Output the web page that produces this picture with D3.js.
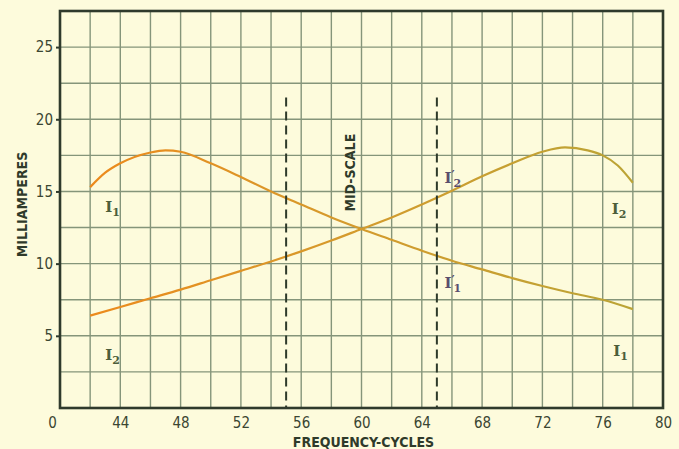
<!DOCTYPE html>
<html>
<head>
<meta charset="utf-8">
<script src="https://cdn.jsdelivr.net/npm/d3@7"></script>
<style>
  html, body { margin: 0; padding: 0; background: #fdfbdc; }
  svg { display: block; }
  .tick-label { font-family: "DejaVu Sans Condensed", "DejaVu Sans", sans-serif; font-size: 15px; fill: #3b4632; }
  .title { font-family: "DejaVu Sans Condensed", "DejaVu Sans", sans-serif; font-size: 14px; font-weight: bold; fill: #2f3a2a; }
  .curve-label { font-family: "DejaVu Serif", serif; font-weight: bold; font-size: 15px; }
</style>
</head>
<body>
<svg id="chart"></svg>
<script>
const width = 679;
const height = 449;

// frequency (cycles) vs milliamperes
const i1Freq = [42, 43, 44, 46, 47, 48, 50, 52, 54, 56, 58, 60, 62, 64, 66, 68, 70, 72, 74, 76, 78];
const i1Ma   = [15.3, 16.3, 16.95, 17.7, 17.85, 17.75, 16.95, 16.0, 15.0, 14.1, 13.2, 12.4, 11.65, 10.9, 10.2, 9.6, 9.0, 8.45, 7.95, 7.5, 6.85];

const i2Freq = [42, 44, 46, 48, 50, 52, 54, 56, 58, 60, 62, 64, 66, 68, 70, 72, 73.5, 75, 76, 77, 78];
const i2Ma   = [6.4, 7.0, 7.6, 8.2, 8.85, 9.5, 10.15, 10.85, 11.6, 12.4, 13.2, 14.1, 15.05, 16.05, 16.95, 17.75, 18.05, 17.85, 17.5, 16.8, 15.6];

const xTicks = [40, 44, 48, 52, 56, 60, 64, 68, 72, 76, 80];
const yTicks = [5, 10, 15, 20, 25];

// dashed markers at 55 and 65 cycles
const markerFreq = [55, 65];
const markerTop = 21.5;

// curve labels: [freq, mA, main, sub, prime]
const labels = [
  [43, 13.55, "I", "1", false],
  [43, 3.35, "I", "2", false],
  [65.5, 15.6, "I", "2", true],
  [65.5, 8.3, "I", "1", true],
  [76.6, 13.45, "I", "2", false],
  [76.7, 3.6, "I", "1", false]
];

const margin = { top: 11, right: 16, bottom: 41, left: 60 };

const svg = d3.select("#chart")
    .attr("width", width)
    .attr("height", height);

const x = d3.scaleLinear()
    .domain([40, 80])
    .range([margin.left, width - margin.right]);

const y = d3.scaleLinear()
    .domain([0, 27.5])
    .range([height - margin.bottom, margin.top]);

const defs = svg.append("defs");
const grad = defs.append("linearGradient")
    .attr("id", "curveGrad")
    .attr("gradientUnits", "userSpaceOnUse")
    .attr("x1", x(42)).attr("x2", x(78))
    .attr("y1", 0).attr("y2", 0);
grad.append("stop").attr("offset", 0).attr("stop-color", "#ec8a1c");
grad.append("stop").attr("offset", 0.45).attr("stop-color", "#d69a2c");
grad.append("stop").attr("offset", 1).attr("stop-color", "#bba436");

// grid
const grid = svg.append("g").attr("stroke", "#85957a").attr("stroke-width", 1.4);
grid.selectAll(".vline")
    .data(d3.range(42, 80, 2))
  .enter().append("line")
    .attr("x1", d => x(d)).attr("x2", d => x(d))
    .attr("y1", y(0)).attr("y2", y(27.5));
grid.selectAll(".hline")
    .data(d3.range(2.5, 27.5, 2.5))
  .enter().append("line")
    .attr("y1", d => y(d)).attr("y2", d => y(d))
    .attr("x1", x(40)).attr("x2", x(80));

// curves
const line = d3.line()
    .x(d => x(d[0]))
    .y(d => y(d[1]))
    .curve(d3.curveMonotoneX);

svg.append("path")
    .datum(d3.zip(i1Freq, i1Ma))
    .attr("fill", "none")
    .attr("stroke", "url(#curveGrad)")
    .attr("stroke-width", 2.2)
    .attr("d", line);

svg.append("path")
    .datum(d3.zip(i2Freq, i2Ma))
    .attr("fill", "none")
    .attr("stroke", "url(#curveGrad)")
    .attr("stroke-width", 2.2)
    .attr("d", line);

// dashed markers
svg.selectAll(".marker")
    .data(markerFreq)
  .enter().append("line")
    .attr("x1", d => x(d)).attr("x2", d => x(d))
    .attr("y1", y(markerTop)).attr("y2", y(0))
    .attr("stroke", "#2e3a2a")
    .attr("stroke-width", 2)
    .attr("stroke-dasharray", "9,5");

// frame
svg.append("rect")
    .attr("x", x(40)).attr("y", y(27.5))
    .attr("width", x(80) - x(40))
    .attr("height", y(0) - y(27.5))
    .attr("fill", "none")
    .attr("stroke", "#2f3a2c")
    .attr("stroke-width", 2.6);

// axes
const xAxis = svg.append("g")
    .attr("transform", `translate(0,${y(0)})`)
    .call(d3.axisBottom(x).tickValues(xTicks).tickSize(0).tickPadding(6)
      .tickFormat(d => d === 40 ? "0" : d));
xAxis.select(".domain").remove();
xAxis.selectAll("text").attr("class", "tick-label").attr("dy", "0.9em")
    .attr("dx", d => d === 40 ? -8 : 0);

const yAxis = svg.append("g")
    .attr("transform", `translate(${x(40)},0)`)
    .call(d3.axisLeft(y).tickValues(yTicks).tickSize(4).tickPadding(3));
yAxis.select(".domain").remove();
yAxis.selectAll("line").attr("stroke", "#2f3a2c").attr("stroke-width", 2);
yAxis.selectAll("text").attr("class", "tick-label");

// titles
svg.append("text")
    .attr("class", "title")
    .attr("text-anchor", "middle")
    .attr("x", (x(40) + x(80)) / 2 + 2)
    .attr("y", 447)
    .text("FREQUENCY-CYCLES");

svg.append("text")
    .attr("class", "title")
    .attr("text-anchor", "middle")
    .attr("transform", `translate(27,${y(14.1)}) rotate(-90)`)
    .text("MILLIAMPERES");

svg.append("text")
    .attr("class", "title")
    .attr("text-anchor", "middle")
    .attr("transform", `translate(${x(59.6)},${y(16.3)}) rotate(-90)`)
    .text("MID-SCALE");

// curve labels
labels.forEach(([f, v, main, sub, prime]) => {
  const t = svg.append("text")
      .attr("class", "curve-label")
      .attr("x", x(f))
      .attr("y", y(v))
      .attr("fill", prime ? "#5a4e6e" : "#4c5e3a");
  t.append("tspan").text(main);
  if (prime) {
    t.append("tspan").attr("font-size", 12).attr("dy", -3).text("\u2032");
    t.append("tspan").attr("font-size", 11).attr("dx", -1).attr("dy", 7).text(sub);
  } else {
    t.append("tspan").attr("font-size", 11).attr("dy", 4).text(sub);
  }
});
</script>
</body>
</html>
